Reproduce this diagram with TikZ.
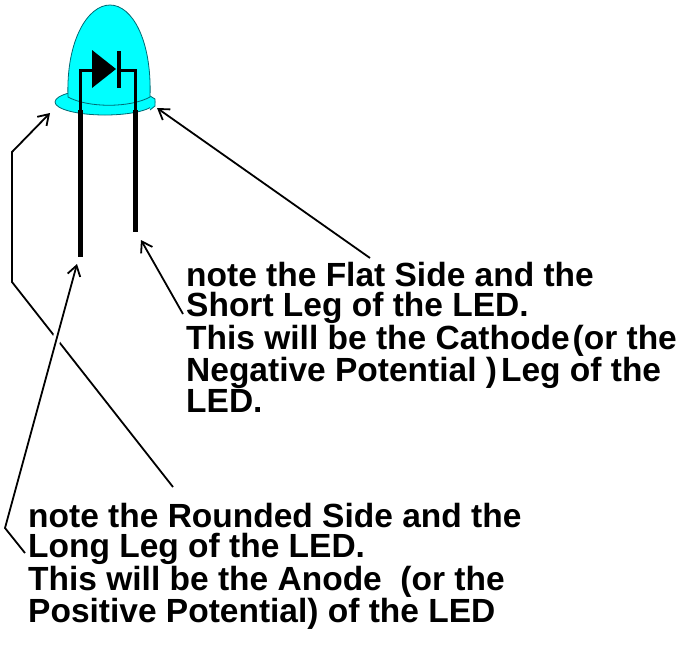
\documentclass[tikz,border=0pt]{standalone}
\usepackage{fontspec}
\setmainfont{Liberation Sans}
\usetikzlibrary{arrows.meta}

\definecolor{ledcyan}{RGB}{0,255,255}
\definecolor{ledrim}{RGB}{0,105,115}

\begin{document}
\begin{tikzpicture}[x=1pt,y=-1pt]
\tikzstyle{note}=[font=\bfseries\fontsize{33.5}{30.5}\selectfont, align=left, anchor=north west, inner sep=0pt]
\tikzstyle{pointer}=[line width=1.8pt, -{Straight Barb[length=10pt,width=13pt]}]
\tikzstyle{lens}=[draw=ledrim, fill=ledcyan, line width=0.8pt]
\tikzstyle{leg}=[line width=5pt]
\tikzstyle{wire}=[line width=3pt]
\useasboundingbox (0,0) rectangle (684,649);

% rim of the lens, then the dome over it
\draw[lens] (105,102) ellipse [x radius=50, y radius=13];
\draw[lens] (150,96) -- (155,99) -- (155,106) -- (150,110);
\draw[lens] (68,97) .. controls (66,40) and (88,5) .. (110,5)
  .. controls (132,5) and (152,40) .. (150,97)
  .. controls (130,108) and (88,108) .. cycle;

% diode symbol and the leads inside
\fill (92,50) -- (92,88) -- (116,69) -- cycle;
\fill (117,51) rectangle (121,88);
\draw[wire] (92,70) -- (80,70) -- (80,112);
\draw[wire] (120,70) -- (135,70) -- (135,112);

% legs: anode long, cathode short
\coordinate (anode) at (80,257);
\coordinate (cathode) at (135,232);
\draw[leg] (80,110) -- (anode);
\draw[leg] (135,110) -- (cathode);

% where the pointers end
\coordinate (flatside) at (157,108);
\coordinate (roundside) at (50,113);
\coordinate (longtip) at (77,264);
\coordinate (shorttip) at (141,240);

\node[note] (cathodenote) at (186,262) {note the Flat Side and the\\Short Leg of the LED.\\This will be the Cathode\hspace{3pt}(or the\\Negative Potential )\hspace{4pt}Leg of the\\LED.};
\node[note] (anodenote) at (28,503) {note the Rounded Side and the\\Long Leg of the LED.\\This will be the Anode\ \ (or the\\Positive Potential) of the LED};

\coordinate (flatfrom) at (370,258);
\coordinate (shortfrom) at (183,314);
\coordinate (roundfrom) at (173,487);
\coordinate (longfrom) at (25,553);

\draw[pointer] (flatfrom) -- (flatside);
\draw[pointer] (shortfrom) -- (shorttip);
\draw[pointer] (roundfrom) -- (12,282) -- (12,152) -- (roundside);
\draw[pointer, preaction={draw=white, line width=8pt, -, shorten <=150pt, shorten >=60pt}]
  (longfrom) -- (5,528) -- (longtip);
\end{tikzpicture}
\end{document}
